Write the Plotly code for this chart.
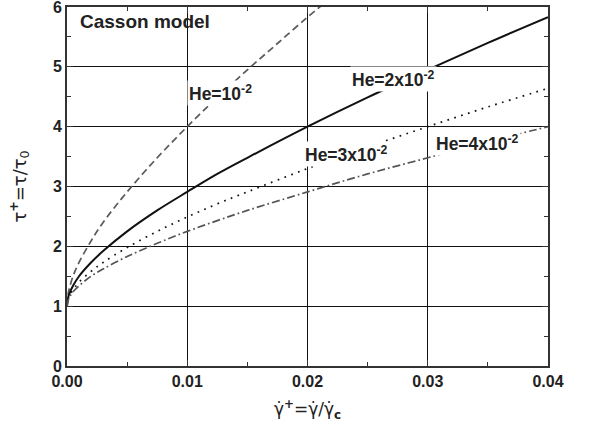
import plotly.graph_objects as go

# x values (shear rate, dimensionless)
x_vals = [0.0, 0.0001, 0.0002, 0.0005, 0.001, 0.002, 0.003, 0.005, 0.0075, 0.01,
          0.0125, 0.015, 0.02, 0.025, 0.03, 0.035, 0.04]

# He = 1e-2 (goes off the top near x=0.021)
x_he1 = [0.0, 0.0001, 0.0002, 0.0005, 0.001, 0.002, 0.003, 0.005, 0.0075, 0.01,
         0.0125, 0.015, 0.0175, 0.02, 0.0215, 0.0225]
y_he1 = [1.00, 1.21, 1.30, 1.50, 1.73, 2.09, 2.40, 2.91, 3.48, 4.00,
         4.49, 4.95, 5.39, 5.83, 6.08, 6.25]
y_he2 = [1.00, 1.15, 1.21, 1.34, 1.50, 1.73, 1.92, 2.25, 2.60, 2.91,
         3.21, 3.48, 4.00, 4.49, 4.95, 5.40, 5.83]
y_he3 = [1.00, 1.12, 1.17, 1.27, 1.40, 1.58, 1.73, 1.98, 2.25, 2.49,
         2.71, 2.91, 3.30, 3.66, 4.00, 4.33, 4.64]
y_he4 = [1.00, 1.10, 1.15, 1.24, 1.34, 1.50, 1.62, 1.83, 2.05, 2.25,
         2.43, 2.60, 2.91, 3.21, 3.48, 3.75, 4.00]

x_ticks = [0.0, 0.01, 0.02, 0.03, 0.04]
x_tick_text = ["0.00", "0.01", "0.02", "0.03", "0.04"]
y_ticks = [0, 1, 2, 3, 4, 5, 6]

FONT = "Liberation Sans, Arial, sans-serif"
TFONT = "DejaVu Sans, sans-serif"

fig = go.Figure()
fig.add_trace(go.Scatter(x=x_he1, y=y_he1, mode="lines", line_shape="spline",
                         line=dict(color="#5a5a5a", width=1.7, dash="7px,4px")))
fig.add_trace(go.Scatter(x=x_vals, y=y_he2, mode="lines", line_shape="spline",
                         line=dict(color="#111111", width=2)))
fig.add_trace(go.Scatter(x=x_vals, y=y_he3, mode="lines", line_shape="spline",
                         line=dict(color="#111111", width=1.7, dash="1.7px,5.5px")))
fig.add_trace(go.Scatter(x=x_vals, y=y_he4, mode="lines", line_shape="spline",
                         line=dict(color="#555555", width=1.7, dash="8px,3px,1.7px,3px")))

ann_font = dict(family=FONT, size=17.5, color="#222222")
def lab(x, y, text):
    fig.add_annotation(x=x, y=y, text="<b>" + text + "</b>", showarrow=False,
                       xanchor="left", yanchor="middle", bgcolor="white",
                       borderpad=1, font=ann_font)

fig.add_annotation(x=0.0009, y=5.75, text="<b>Casson model</b>", showarrow=False,
                   xanchor="left", yanchor="middle", font=dict(family=FONT, size=19, color="#222222"))
lab(0.0100, 4.57, "He=10<sup>-2</sup>")
lab(0.0235, 4.80, "He=2x10<sup>-2</sup>")
lab(0.0196, 3.55, "He=3x10<sup>-2</sup>")
lab(0.0305, 3.73, "He=4x10<sup>-2</sup>")

axis_common = dict(showline=True, linecolor="#333333", linewidth=2, mirror="ticks",
                   ticks="inside", ticklen=6, tickwidth=1.2, tickcolor="#333333",
                   showgrid=True, gridcolor="#111111", gridwidth=1, zeroline=False,
                   automargin=False, ticklabeloverflow="allow",
                   tickfont=dict(family=FONT, size=16, color="#222222"))

fig.update_xaxes(range=[0, 0.04], tickvals=x_ticks, ticktext=["<b>%s</b>" % t for t in x_tick_text],
                 minor=dict(ticks="inside", ticklen=4, dtick=0.005, tickcolor="#333333", showgrid=False),
                 title=dict(text="γ̇<sup><b>+</b></sup>=γ̇/γ̇<sub><b>c</b></sub>", standoff=14,
                            font=dict(family=TFONT, size=17, color="#222222")),
                 **axis_common)
fig.update_yaxes(range=[0, 6], tickvals=y_ticks, ticktext=["<b>%d</b>" % t for t in y_ticks],
                 minor=dict(ticks="inside", ticklen=4, dtick=0.5, tickcolor="#333333", showgrid=False),
                 title=dict(text="τ<sup><b>+</b></sup>=τ/τ<sub>0</sub>", standoff=22,
                            font=dict(family=TFONT, size=18, color="#222222")),
                 **axis_common)

fig.update_layout(width=590, height=441, showlegend=False,
                  plot_bgcolor="white", paper_bgcolor="white",
                  margin=dict(l=67, r=42, t=7, b=75))

fig.write_html("out.html", config={"displayModeBar": False},
               post_script="document.body.style.margin='0';document.body.style.overflow='hidden';")
